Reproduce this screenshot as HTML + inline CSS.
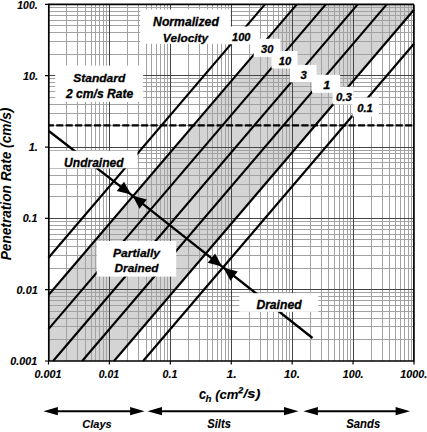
<!DOCTYPE html>
<html><head><meta charset="utf-8"><style>
html,body{margin:0;padding:0;background:#fff;}
svg{display:block;}
</style></head><body>
<svg width="427" height="432" viewBox="0 0 427 432">
<rect width="427" height="432" fill="#fff"/>
<polygon fill="#d4d4d4" points="48.5,295.07 296.77,4.4 414,4.4 414,9.79 114.02,361 48.5,361"/>
<path d="M66.5 4.4V361M77.5 4.4V361M85.5 4.4V361M91.5 4.4V361M95.5 4.4V361M99.5 4.4V361M103.5 4.4V361M106.5 4.4V361M127.5 4.4V361M138.5 4.4V361M146.5 4.4V361M151.5 4.4V361M156.5 4.4V361M160.5 4.4V361M164.5 4.4V361M167.5 4.4V361M188.5 4.4V361M199.5 4.4V361M207.5 4.4V361M212.5 4.4V361M217.5 4.4V361M221.5 4.4V361M225.5 4.4V361M228.5 4.4V361M249.5 4.4V361M260.5 4.4V361M267.5 4.4V361M273.5 4.4V361M278.5 4.4V361M282.5 4.4V361M286.5 4.4V361M289.5 4.4V361M310.5 4.4V361M321.5 4.4V361M328.5 4.4V361M334.5 4.4V361M339.5 4.4V361M343.5 4.4V361M347.5 4.4V361M350.5 4.4V361M371.5 4.4V361M382.5 4.4V361M389.5 4.4V361M395.5 4.4V361M400.5 4.4V361M404.5 4.4V361M408.5 4.4V361M411.5 4.4V361M48.5 339.5H414M48.5 326.5H414M48.5 318.5H414M48.5 311.5H414M48.5 305.5H414M48.5 300.5H414M48.5 296.5H414M48.5 292.5H414M48.5 268.5H414M48.5 255.5H414M48.5 246.5H414M48.5 239.5H414M48.5 234.5H414M48.5 229.5H414M48.5 225.5H414M48.5 221.5H414M48.5 196.5H414M48.5 184.5H414M48.5 175.5H414M48.5 168.5H414M48.5 162.5H414M48.5 158.5H414M48.5 153.5H414M48.5 150.5H414M48.5 125.5H414M48.5 113.5H414M48.5 104.5H414M48.5 97.5H414M48.5 91.5H414M48.5 86.5H414M48.5 82.5H414M48.5 78.5H414M48.5 54.5H414M48.5 41.5H414M48.5 32.5H414M48.5 25.5H414M48.5 20.5H414M48.5 15.5H414M48.5 11.5H414M48.5 7.5H414" stroke="#a2a2a2" stroke-width="1" fill="none"/>
<path d="M109.5 4.4V361M170.5 4.4V361M231.5 4.4V361M292.5 4.4V361M353.5 4.4V361M48.5 289.5H414M48.5 218.5H414M48.5 147.5H414M48.5 75.5H414" stroke="#454545" stroke-width="1" fill="none"/>
<path d="M48.8 125.3H413" stroke="#000" stroke-width="2.2" stroke-dasharray="7.1 2.33" stroke-dashoffset="2" fill="none"/>
<path d="M48.5 257.78L264.92 4.4" stroke="#000" stroke-width="2.15" fill="none"/>
<path d="M48.5 295.07L296.77 4.4" stroke="#000" stroke-width="2.15" fill="none"/>
<path d="M48.5 329.1L325.83 4.4" stroke="#000" stroke-width="2.15" fill="none"/>
<path d="M53.1 361L357.69 4.4" stroke="#000" stroke-width="2.15" fill="none"/>
<path d="M82.17 361L386.75 4.4" stroke="#000" stroke-width="2.15" fill="none"/>
<path d="M114.02 361L414 9.79" stroke="#000" stroke-width="2.15" fill="none"/>
<path d="M143.08 361L414 43.82" stroke="#000" stroke-width="2.15" fill="none"/>
<path d="M48.8 131L131.1 194.6L312.5 338" stroke="#000" stroke-width="2.3" stroke-linejoin="round" fill="none"/>
<rect x="140.2" y="9.5" width="90.3" height="34.3" fill="#fff"/>
<rect x="222" y="26.5" width="37.8" height="17.8" fill="#fff"/>
<rect x="55.2" y="65.6" width="88" height="36.2" fill="#fff"/>
<rect x="49.5" y="150.8" width="88" height="17.5" fill="#fff"/>
<rect x="96.7" y="241" width="79.5" height="35.6" fill="#fff"/>
<rect x="239.3" y="293.2" width="79" height="18.6" fill="#fff"/>
<rect x="253.7" y="38.8" width="26.7" height="18.1" fill="#fff"/>
<rect x="271.5" y="51" width="26" height="17.5" fill="#fff"/>
<rect x="289.9" y="64.9" width="26.6" height="17.5" fill="#fff"/>
<rect x="312" y="74.8" width="28.1" height="18" fill="#fff"/>
<rect x="332.6" y="86.8" width="21.3" height="17.6" fill="#fff"/>
<rect x="352.4" y="97.5" width="26.6" height="19" fill="#fff"/>
<polygon points="131.1,194.6 116.81,191.01 124.03,181.68" fill="#000"/>
<polygon points="132.6,195.8 146.85,199.54 139.53,208.8" fill="#000"/>
<polygon points="222,266.6 207.75,262.86 215.07,253.6" fill="#000"/>
<polygon points="223.5,267.8 237.75,271.54 230.43,280.8" fill="#000"/>
<path d="M48.8 4.4V361M48 4.4H414M48 361H414.5M413.9 4.4V361" stroke="#000" stroke-width="1.7" fill="none"/>
<path d="M48.5 361V364.5M109.42 361V364.5M170.33 361V364.5M231.25 361V364.5M292.17 361V364.5M353.08 361V364.5M414 361V364.5M45 361H48.5M45 289.68H48.5M45 218.36H48.5M45 147.04H48.5M45 75.72H48.5M45 4.4H48.5" stroke="#000" stroke-width="1.2" fill="none"/>
<g font-family="&quot;Liberation Sans&quot;, sans-serif" font-weight="bold" font-style="italic" fill="#000" style="font-kerning:none">
<text transform="translate(153.09 25.9) scale(1.0120 1)" font-size="12.064" stroke="#000" stroke-width="0.3">Normalized</text>
<text transform="translate(162.71 41.5) scale(1.0077 1)" font-size="11.773" stroke="#000" stroke-width="0.3">Velocity</text>
<text transform="translate(73.25 81.8) scale(1.0199 1)" font-size="11.773" stroke="#000" stroke-width="0.3">Standard</text>
<text transform="translate(65.99 97.5) scale(1.0058 1)" font-size="12.064" stroke="#000" stroke-width="0.3">2 cm/s Rate</text>
<text transform="translate(64.1 166.5) scale(0.9755 1)" font-size="12.355" stroke="#000" stroke-width="0.3">Undrained</text>
<text transform="translate(112.99 256.8) scale(1.0412 1)" font-size="11.628" stroke="#000" stroke-width="0.3">Partially</text>
<text transform="translate(114.59 272.2) scale(1.0270 1)" font-size="11.483" stroke="#000" stroke-width="0.3">Drained</text>
<text transform="translate(256.39 309.2) scale(1.0065 1)" font-size="12.064" stroke="#000" stroke-width="0.3">Drained</text>
<text transform="translate(232.12 40.8) scale(1.0052 1)" font-size="10.901" stroke="#000" stroke-width="0.3">100</text>
<text transform="translate(261.11 53.3) scale(1.0006 1)" font-size="11.047" stroke="#000" stroke-width="0.3">30</text>
<text transform="translate(278.82 65.4) scale(1.0217 1)" font-size="10.901" stroke="#000" stroke-width="0.3">10</text>
<text transform="translate(300.41 79.3) scale(1.0281 1)" font-size="11.047" stroke="#000" stroke-width="0.3">3</text>
<text transform="translate(323.2 89.2) scale(1.1662 1)" font-size="10.756" stroke="#000" stroke-width="0.3">1</text>
<text transform="translate(335.93 100.9) scale(1.0711 1)" font-size="10.610" stroke="#000" stroke-width="0.3">0.3</text>
<text transform="translate(357.24 111.9) scale(1.0553 1)" font-size="10.610" stroke="#000" stroke-width="0.3">0.1</text>
<text transform="translate(82.36 427.5) scale(0.9723 1)" font-size="11.337" stroke="#000" stroke-width="0.1">Clays</text>
<text transform="translate(207.26 427.9) scale(0.9311 1)" font-size="12.064" stroke="#000" stroke-width="0.1">Silts</text>
<text transform="translate(346.26 427.8) scale(0.9287 1)" font-size="12.209" stroke="#000" stroke-width="0.1">Sands</text>
<text transform="translate(17.33 8.9) scale(0.9548 1)" font-size="10.901" stroke="#000" stroke-width="0.12">100.</text>
<text transform="translate(22.92 79.7) scale(1.0038 1)" font-size="10.901" stroke="#000" stroke-width="0.12">10.</text>
<text transform="translate(28.72 151) scale(1.0282 1)" font-size="10.756" stroke="#000" stroke-width="0.12">1.</text>
<text transform="translate(22.65 222.3) scale(0.9980 1)" font-size="10.756" stroke="#000" stroke-width="0.12">0.1</text>
<text transform="translate(16.55 293.8) scale(1.0146 1)" font-size="10.756" stroke="#000" stroke-width="0.12">0.01</text>
<text transform="translate(10.36 364.8) scale(0.9965 1)" font-size="10.756" stroke="#000" stroke-width="0.12">0.001</text>
<text transform="translate(34.45 377.7) scale(1.0179 1)" font-size="10.610" stroke="#000" stroke-width="0.12">0.001</text>
<text transform="translate(98.67 377.7) scale(0.9877 1)" font-size="10.610" stroke="#000" stroke-width="0.12">0.01</text>
<text transform="translate(162.56 377.7) scale(1.0044 1)" font-size="10.610" stroke="#000" stroke-width="0.12">0.1</text>
<text transform="translate(226.4 377.7) scale(1.1581 1)" font-size="10.610" stroke="#000" stroke-width="0.12">1.</text>
<text transform="translate(283.91 377.7) scale(1.0825 1)" font-size="10.610" stroke="#000" stroke-width="0.12">10.</text>
<text transform="translate(342.83 377.7) scale(1.0014 1)" font-size="10.610" stroke="#000" stroke-width="0.12">100.</text>
<text transform="translate(400.33 377.7) scale(1.0128 1)" font-size="10.610" stroke="#000" stroke-width="0.12">1000.</text>
<text transform="translate(198.91 399) scale(0.8727 1)" font-size="14.583" stroke="#000" stroke-width="0.12">c</text>
<text transform="translate(205.43 402) scale(1.1263 1)" font-size="8.690" stroke="#000" stroke-width="0.12">h</text>
<text transform="translate(215.23 399.08) scale(1.0018 1)" font-size="13.088" stroke="#000" stroke-width="0.12">(cm</text>
<text transform="translate(237.44 399.14) scale(1.0349 1)" font-size="15.711" stroke="#000" stroke-width="0.12">²</text>
<text transform="translate(243.25 397.8) scale(1.1800 1)" font-size="12.552" stroke="#000" stroke-width="0.12">/s)</text>
<text transform="translate(11.1 260.34) rotate(-90) scale(0.9910 1)" font-size="13.808">Penetration Rate (cm/s)</text>
</g>
<path d="M49.4 411.2H138.6" stroke="#000" stroke-width="1.9"/><polygon points="43.4,411.2 57.9,407.1 57.9,415.3" fill="#000"/><polygon points="144.6,411.2 130.1,407.1 130.1,415.3" fill="#000"/>
<path d="M153.5 411.2H292.5" stroke="#000" stroke-width="1.9"/><polygon points="147.5,411.2 162,407.1 162,415.3" fill="#000"/><polygon points="298.5,411.2 284,407.1 284,415.3" fill="#000"/>
<path d="M309.4 411.2H404.1" stroke="#000" stroke-width="1.9"/><polygon points="303.4,411.2 317.9,407.1 317.9,415.3" fill="#000"/><polygon points="410.1,411.2 395.6,407.1 395.6,415.3" fill="#000"/>
</svg>
</body></html>
